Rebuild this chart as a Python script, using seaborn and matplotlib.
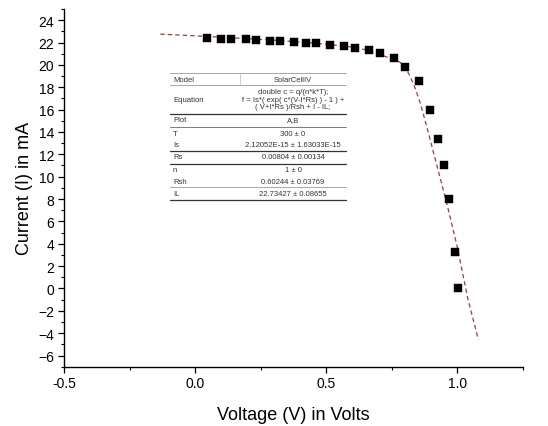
import numpy as np
import pandas as pd
import seaborn as sns
import matplotlib
matplotlib.use("Agg")
import matplotlib.pyplot as plt
from matplotlib.ticker import MultipleLocator
from matplotlib.lines import Line2D

# ---- data ----
voltage = [0.044, 0.098, 0.136, 0.193, 0.231, 0.285, 0.323, 0.378, 0.422, 0.460,
           0.516, 0.568, 0.610, 0.662, 0.706, 0.757, 0.801, 0.852, 0.895, 0.925,
           0.947, 0.967, 0.989, 1.001]
current = [22.45, 22.36, 22.30, 22.30, 22.22, 22.12, 22.12, 22.07, 22.00, 21.92,
           21.78, 21.66, 21.53, 21.33, 21.10, 20.65, 19.80, 18.55, 16.00, 13.35,
           11.00, 8.00, 3.25, 0.05]

fit_voltage = [-0.133, 0.0, 0.1, 0.2, 0.3, 0.4, 0.5, 0.55, 0.6, 0.65, 0.7, 0.75,
               0.78, 0.80, 0.82, 0.84, 0.86, 0.88, 0.90, 0.92, 0.96, 1.00, 1.04, 1.08]
fit_current = [22.75, 22.60, 22.47, 22.35, 22.21, 22.05, 21.85, 21.71, 21.60, 21.35,
               20.95, 20.55, 20.25, 19.85, 18.95, 17.85, 16.45, 14.75, 12.95, 11.15,
               7.55, 3.65, -0.95, -4.60]

table_params = ["Model", "Equation", "Plot", "T", "Is", "Rs", "n", "Rsh", "IL"]
table_values = ["SolarCellIV",
                "double c = q/(n*k*T);\nf = Is*( exp( c*(V-I*Rs) ) - 1 ) +\n( V+I*Rs )/Rsh + I - IL;",
                "A,B", "300 \u00b1 0", "2.12052E-15 \u00b1 1.63033E-15",
                "0.00804 \u00b1 0.00134", "1 \u00b1 0", "0.60244 \u00b1 0.03769",
                "22.73427 \u00b1 0.08655"]

x_label = "Voltage (V) in Volts"
y_label = "Current (I) in mA"

# ---- style ----
sns.set_theme(style="ticks")
plt.rcParams["font.family"] = ["Liberation Sans", "DejaVu Sans"]

W, H = 548, 427
fig = plt.figure(figsize=(W / 100, H / 100), dpi=100)
fig.patch.set_facecolor("white")
ax = fig.add_axes([64 / W, 1 - 367.7 / H, (523 - 64) / W, (367.7 - 10) / H])
ax.set_facecolor("white")

pts = pd.DataFrame({"V": voltage, "I": current})
fit = pd.DataFrame({"V": fit_voltage, "I": fit_current})

sns.lineplot(data=fit, x="V", y="I", ax=ax, sort=False, color="#a53a3a",
             linewidth=0.9, dashes=False, zorder=2)
ax.lines[-1].set_dashes((3.5, 2.5))
sns.scatterplot(data=pts, x="V", y="I", ax=ax, marker="s", s=40, color="black",
                edgecolor="black", linewidth=0.3, zorder=3)

ax.set_xlim(-0.5, 1.25)
ax.xaxis.set_major_locator(MultipleLocator(0.5))
ax.xaxis.set_minor_locator(MultipleLocator(0.25))
ax.yaxis.set_minor_locator(MultipleLocator(1))
ax.set_yticks(np.arange(-6, 25, 2))
ax.set_ylim(-7, 25)
ax.xaxis.set_major_formatter(matplotlib.ticker.FormatStrFormatter("%.1f"))

for s in ["top", "right"]:
    ax.spines[s].set_visible(False)
for s in ["left", "bottom"]:
    ax.spines[s].set_color("black")
    ax.spines[s].set_linewidth(1.0)

ax.tick_params(axis="both", which="major", direction="out", length=4, width=0.9,
               labelsize=10, colors="black", pad=3)
ax.tick_params(axis="both", which="minor", direction="out", length=2.5, width=0.8,
               colors="black")
ax.grid(False)

ax.set_xlabel(x_label, fontsize=13, color="black", labelpad=11)
ax.set_ylabel(y_label, fontsize=13, color="black", labelpad=4)

# ---- parameter table (drawn in figure pixel coordinates) ----
def fx(px):
    return px / W

def fy(py):
    return 1 - py / H

t_left, t_split, t_right = 170, 240, 346
val_center = (t_split + t_right) / 2
row_centers = [80, 100, 121, 134, 146, 158, 170.5, 182, 194]
rules = [(74, "#9a9a9a", 0.6), (86, "#9a9a9a", 0.6), (115, "#333333", 0.9),
         (128, "#666666", 0.6), (152, "#333333", 0.9), (165, "#333333", 0.9),
         (188, "#9a9a9a", 0.6), (201, "#333333", 0.9)]

fig.patches.append(plt.Rectangle((fx(t_left), fy(201)), fx(t_right) - fx(t_left),
                                 fy(74) - fy(201), transform=fig.transFigure,
                                 facecolor="white", edgecolor="none", zorder=4))
for y, c, lw in rules:
    fig.add_artist(Line2D([fx(t_left), fx(t_right)], [fy(y), fy(y)],
                          transform=fig.transFigure, color=c, linewidth=lw, zorder=5))
fig.add_artist(Line2D([fx(t_split), fx(t_split)], [fy(74), fy(86)],
                      transform=fig.transFigure, color="#bbbbbb", linewidth=0.5, zorder=5))

for p, v, yc in zip(table_params, table_values, row_centers):
    fig.text(fx(t_left + 3), fy(yc), p, fontsize=5.5, color="#333333",
             ha="left", va="center", zorder=6)
    fig.text(fx(val_center), fy(yc), v, fontsize=5.5, color="#333333",
             ha="center", va="center", linespacing=1.15, zorder=6)

fig.savefig("out.png", dpi=100, facecolor="white")
